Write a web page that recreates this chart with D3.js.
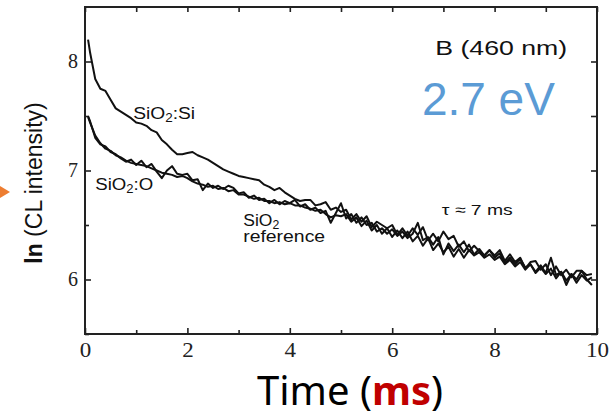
<!DOCTYPE html>
<html>
<head>
<meta charset="utf-8">
<script src="https://d3js.org/d3.v7.min.js"></script>
<style>
  body { margin: 0; background: #fff; }
  svg { display: block; }
</style>
</head>
<body>
<svg id="chart" width="613" height="417"></svg>
<script>
// time axis (ms)
let time = [0.06, 0.1, 0.2, 0.3, 0.4, 0.5, 0.6, 0.7, 0.8, 0.9,
  1.0, 1.1, 1.2, 1.3, 1.4, 1.5, 1.6, 1.7, 1.8, 1.9,
  2.0, 2.1, 2.2, 2.3, 2.4, 2.5, 2.6, 2.7, 2.8, 2.9,
  3.0, 3.1, 3.2, 3.3, 3.4, 3.5, 3.6, 3.7, 3.8, 3.9,
  4.0, 4.1, 4.2, 4.3, 4.4, 4.5, 4.6, 4.7, 4.8, 4.9,
  5.0, 5.1, 5.2, 5.3, 5.4, 5.5, 5.6, 5.7, 5.8, 5.9,
  6.0, 6.1, 6.2, 6.3, 6.4, 6.5, 6.6, 6.7, 6.8, 6.9,
  7.0, 7.1, 7.2, 7.3, 7.4, 7.5, 7.6, 7.7, 7.8, 7.9,
  8.0, 8.1, 8.2, 8.3, 8.4, 8.5, 8.6, 8.7, 8.8, 8.9,
  9.0, 9.1, 9.2, 9.3, 9.4, 9.5, 9.6, 9.7, 9.8, 9.9];

// ln(CL intensity)
let sio2Si = [8.20, 8.08, 7.84, 7.75, 7.73, 7.65, 7.57, 7.54, 7.51, 7.48,
  7.44, 7.43, 7.41, 7.37, 7.35, 7.28, 7.24, 7.19, 7.15, 7.15,
  7.16, 7.17, 7.14, 7.12, 7.10, 7.07, 7.04, 7.01, 6.99, 6.97,
  6.95, 6.94, 6.93, 6.92, 6.91, 6.87, 6.85, 6.82, 6.84, 6.80,
  6.77, 6.74, 6.72, 6.73, 6.73, 6.68, 6.69, 6.71, 6.64, 6.66,
  6.62, 6.64, 6.55, 6.60, 6.53, 6.58, 6.48, 6.53, 6.50, 6.47,
  6.50, 6.41, 6.47, 6.40, 6.47, 6.41, 6.48, 6.36, 6.42, 6.35,
  6.44, 6.37, 6.40, 6.30, 6.35, 6.26, 6.31, 6.26, 6.22, 6.27,
  6.22, 6.27, 6.17, 6.23, 6.16, 6.20, 6.10, 6.16, 6.17, 6.09,
  6.14, 6.04, 6.12, 6.04, 6.09, 6.02, 6.08, 6.08, 6.04, 6.05];

let sio2O = [7.50, 7.45, 7.30, 7.24, 7.22, 7.17, 7.15, 7.11, 7.08, 7.10,
  7.05, 7.09, 7.03, 7.06, 6.99, 6.93, 7.00, 7.04, 6.97, 6.96,
  6.97, 6.91, 6.92, 6.82, 6.88, 6.84, 6.86, 6.83, 6.86, 6.84,
  6.79, 6.80, 6.75, 6.77, 6.73, 6.74, 6.70, 6.73, 6.69, 6.72,
  6.70, 6.73, 6.67, 6.69, 6.64, 6.66, 6.61, 6.63, 6.52, 6.61,
  6.70, 6.56, 6.60, 6.52, 6.57, 6.50, 6.52, 6.44, 6.47, 6.42,
  6.46, 6.40, 6.44, 6.38, 6.42, 6.52, 6.36, 6.39, 6.32, 6.39,
  6.23, 6.33, 6.26, 6.32, 6.25, 6.32, 6.23, 6.28, 6.22, 6.27,
  6.20, 6.24, 6.15, 6.20, 6.14, 6.19, 6.11, 6.14, 6.07, 6.13,
  6.06, 6.20, 6.04, 6.07, 5.95, 6.05, 6.00, 6.08, 6.00, 5.95];

let sio2Ref = [7.49, 7.44, 7.32, 7.25, 7.20, 7.18, 7.14, 7.12, 7.09, 7.07,
  7.06, 7.05, 7.04, 7.02, 7.00, 6.98, 6.97, 6.96, 6.94, 6.95,
  6.93, 6.90, 6.88, 6.87, 6.85, 6.86, 6.83, 6.84, 6.81, 6.82,
  6.78, 6.78, 6.76, 6.74, 6.75, 6.72, 6.72, 6.70, 6.71, 6.69,
  6.70, 6.68, 6.68, 6.66, 6.65, 6.63, 6.64, 6.60, 6.57, 6.59,
  6.58, 6.60, 6.53, 6.57, 6.49, 6.54, 6.45, 6.50, 6.42, 6.47,
  6.39, 6.45, 6.38, 6.44, 6.35, 6.40, 6.31, 6.38, 6.27, 6.33,
  6.25, 6.30, 6.21, 6.28, 6.20, 6.27, 6.22, 6.25, 6.20, 6.23,
  6.18, 6.21, 6.14, 6.18, 6.12, 6.16, 6.09, 6.14, 6.06, 6.11,
  6.05, 6.10, 6.01, 6.07, 5.99, 6.05, 5.97, 6.04, 5.99, 6.02];

let xMajor = [0, 2, 4, 6, 8, 10];
let xMinor = [1, 3, 5, 7, 9];
let yMajor = [6, 7, 8];
let yMinor = [5.5, 6.5, 7.5];

let svg = d3.select("#chart");

let x = d3.scaleLinear().domain([0, 10]).range([85, 597]);
let y = d3.scaleLinear().domain([5.5, 8.5]).range([334, 7]);

//stretch a text horizontally so it spans the given width (the original figure is widened)
function fitText(sel, px, py, width) {
  let len = sel.node().getComputedTextLength();
  sel.attr("transform", "translate(" + px + "," + py + ") scale(" + (width / len) + ",1)");
}

// frame
svg.append("rect")
  .attr("x", x(0)).attr("y", y(8.5))
  .attr("width", x(10) - x(0)).attr("height", y(5.5) - y(8.5))
  .attr("fill", "none").attr("stroke", "#222").attr("stroke-width", 2);

// axes, ticks pointing inwards
function styleAxis(g) {
  g.select(".domain").remove();
  g.selectAll("line").attr("stroke", "#222").attr("stroke-width", 1.6);
  g.selectAll("text")
    .attr("font-family", "'Liberation Serif', 'Times New Roman', serif")
    .attr("font-size", 20).attr("fill", "#222");
}

svg.append("g").attr("transform", "translate(0," + y(5.5) + ")")
  .call(d3.axisBottom(x).tickValues(xMajor).tickSizeInner(-6).tickSizeOuter(0).tickPadding(9).tickFormat(d3.format("d")))
  .call(styleAxis)
  .selectAll("text").attr("transform", "scale(1.15,1)");

svg.append("g").attr("transform", "translate(0," + y(5.5) + ")")
  .call(d3.axisBottom(x).tickValues(xMinor).tickSizeInner(-4).tickSizeOuter(0).tickFormat(""))
  .call(styleAxis);

svg.append("g").attr("transform", "translate(0," + y(8.5) + ")")
  .call(d3.axisTop(x).tickValues(xMajor.concat(xMinor)).tickSizeInner(-5).tickSizeOuter(0).tickFormat(""))
  .call(styleAxis);

svg.append("g").attr("transform", "translate(" + x(0) + ",0)")
  .call(d3.axisLeft(y).tickValues(yMajor).tickSizeInner(-6).tickSizeOuter(0).tickPadding(7).tickFormat(d3.format("d")))
  .call(styleAxis);

svg.append("g").attr("transform", "translate(" + x(0) + ",0)")
  .call(d3.axisLeft(y).tickValues(yMinor).tickSizeInner(-4).tickSizeOuter(0).tickFormat(""))
  .call(styleAxis);

svg.append("g").attr("transform", "translate(" + x(10) + ",0)")
  .call(d3.axisRight(y).tickValues(yMajor.concat(yMinor)).tickSizeInner(-6).tickSizeOuter(0).tickFormat(""))
  .call(styleAxis);

// decay curves
let line = d3.line()
  .x(function (d, i) { return x(time[i]); })
  .y(function (d) { return y(d); });

let series = [sio2Ref, sio2O, sio2Si];
svg.selectAll(".curve").data(series).enter()
  .append("path")
  .attr("class", "curve")
  .attr("d", line)
  .attr("fill", "none")
  .attr("stroke", "#111")
  .attr("stroke-width", 2)
  .attr("stroke-linejoin", "round");

// curve labels
let sans = "'Liberation Sans', Arial, sans-serif";

function sioLabel(rest, t, v, width, size) {
  let txt = svg.append("text").attr("font-family", sans).attr("font-size", size).attr("fill", "#111");
  txt.append("tspan").text("SiO");
  txt.append("tspan").text("2").attr("font-size", size * 0.7).attr("dy", 3);
  txt.append("tspan").text(rest).attr("dy", -3);
  fitText(txt, x(t), y(v), width);
}

sioLabel(":Si", 0.94, 7.47, 62, 17);
sioLabel(":O", 0.2, 6.82, 58, 17);
sioLabel("", 3.09, 6.49, 36, 17);

let refLabel = svg.append("text").attr("font-family", sans).attr("font-size", 16).attr("fill", "#111").text("reference");
fitText(refLabel, x(3.09), y(6.34), 82);

let tauLabel = svg.append("text").attr("font-family", sans).attr("font-size", 15).attr("fill", "#111").text("\u03C4 \u2248 7 ms");
fitText(tauLabel, x(6.97), y(6.59), 71);

let bandLabel = svg.append("text").attr("font-family", sans).attr("font-size", 21).attr("fill", "#111").text("B (460 nm)");
fitText(bandLabel, x(6.84), y(8.06), 132);

svg.append("text")
  .attr("x", x(6.58)).attr("y", y(7.51))
  .attr("font-family", sans).attr("font-size", 46).attr("fill", "#5b9bd5")
  .text("2.7 eV");

// y axis title
let yTitle = svg.append("text").attr("font-family", sans).attr("font-size", 23).attr("fill", "#111")
  .attr("text-anchor", "middle");
yTitle.append("tspan").attr("font-weight", "bold").text("ln");
yTitle.append("tspan").text(" (CL intensity)");
yTitle.attr("transform", "translate(42,183) rotate(-90)");

// x axis title (slide overlay)
let xTitle = svg.append("text")
  .attr("x", 257).attr("y", 405)
  .attr("font-family", "'Noto Sans', sans-serif").attr("font-size", 40).attr("fill", "#000");
xTitle.append("tspan").text("Time (");
xTitle.append("tspan").attr("font-weight", "bold").attr("fill", "#c00000").text("ms");
xTitle.append("tspan").text(")");

// orange pointer at the left edge
svg.append("path")
  .attr("d", "M0,186 L10,192 L0,198 Z")
  .attr("fill", "#ed7d31");
</script>
</body>
</html>
